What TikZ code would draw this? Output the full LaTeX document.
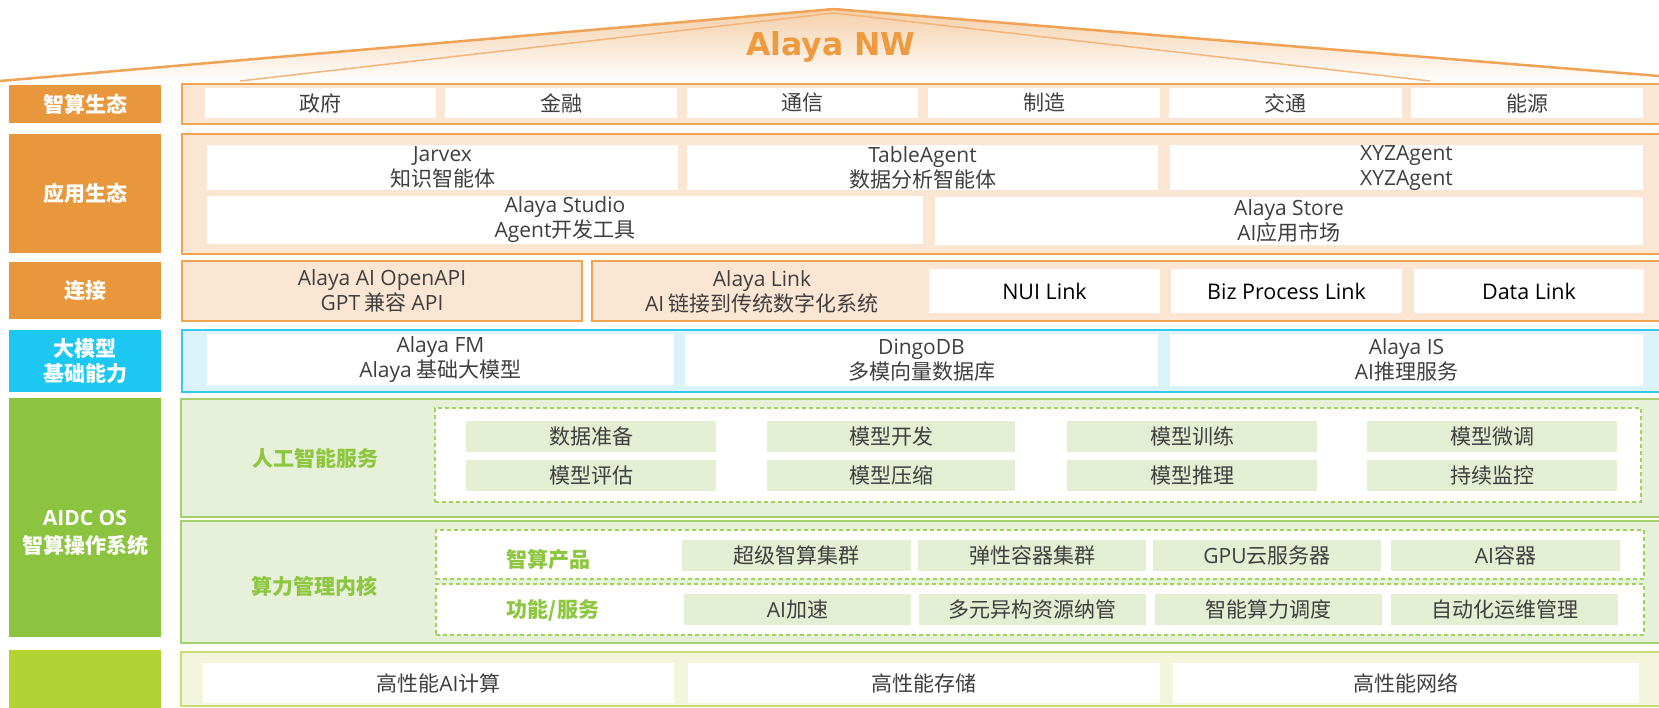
\documentclass[tikz,border=0pt]{standalone}
\usepackage{fontspec}
\setmainfont{Noto Sans CJK SC}
\newfontfamily\en{Open Sans}
\newfontfamily\ttl{DejaVu Sans}
\usetikzlibrary{fadings}
\definecolor{labO}{HTML}{E9973D}
\definecolor{bordO}{HTML}{F0A450}
\definecolor{fillO}{HTML}{FBE6D3}
\definecolor{roofO}{HTML}{F0A255}
\definecolor{roofI}{HTML}{F3B57C}
\definecolor{roofT}{HTML}{F4CFA8}
\definecolor{titleO}{HTML}{EE9A3F}
\definecolor{labC}{HTML}{1CC7F1}
\definecolor{bordC}{HTML}{36C6EE}
\definecolor{fillC}{HTML}{DAF2FA}
\definecolor{labG}{HTML}{8CC43F}
\definecolor{bordG}{HTML}{A4D070}
\definecolor{fillG}{HTML}{E7F1DA}
\definecolor{itemG}{HTML}{E3EED3}
\definecolor{textG}{HTML}{8DC63F}
\definecolor{dashG}{HTML}{9FD35A}
\definecolor{labY}{HTML}{B3D334}
\definecolor{bordY}{HTML}{C9DE72}
\definecolor{fillY}{HTML}{F3F6DC}
\definecolor{txt}{HTML}{3F3F3F}
\newcommand\bx[7][]{\node[minimum width={(#5-#3)*1pt}, minimum height={(#6-#4)*1pt},#1] (#2) at ({(#3+#5)/2},{(#4+#6)/2}) {#7};}
\begin{document}
\begin{tikzpicture}[x=1pt,y=-1pt,
  every node/.style={inner sep=0pt, outer sep=0pt, align=center},
  f21/.style={font=\fontsize{21}{25}\selectfont},
  lab/.style={fill=labO, text=white, font=\fontsize{21}{25}\selectfont\bfseries},
  contO/.style={draw=bordO, fill=fillO, line width=1.3pt},
  contC/.style={draw=bordC, fill=fillC, line width=1.3pt},
  contG/.style={draw=bordG, fill=fillG, line width=1.3pt},
  contY/.style={draw=bordY, fill=fillY, line width=1.3pt},
  wbox/.style={fill=white, text=txt, f21},
  kbox/.style={fill=white, text=black, font=\fontsize{21.5}{25}\selectfont},
  gitem/.style={fill=itemG, text=txt, f21},
  gtitle/.style={text=textG, font=\fontsize{21}{25}\selectfont\bfseries},
  dbox/.style={draw=dashG, dash pattern=on 4pt off 3pt, line width=1.3pt, fill=white}]
\useasboundingbox (0,0) rectangle (1659,707);
% roof
\coordinate (rl) at (0,81);
\coordinate (apex) at (834,9);
\coordinate (rr) at (1659,76);
\coordinate (il) at (240,81);
\coordinate (iapex) at (834,13);
\coordinate (ir) at (1430,81);
\fill[roofT, path fading=south] (rl) -- (apex) -- (rr) -- (1659,82) -- (0,82) -- cycle;
\draw[roofO, line width=2.5pt, line join=round] (rl) -- (apex) -- (rr);
\draw[roofI, line width=1.5pt, line join=round] (il) -- (iapex) -- (ir);
\node[anchor=base, text=titleO, font=\fontsize{31.5}{36}\ttl\bfseries] (title) at (831,55) {Alaya NW};
% row 1
\bx[lab]{l1}{9}{85}{161}{123}{智算生态}
\bx[contO]{c1}{182}{84}{1664}{124}{}
\bx[wbox]{r1a}{205}{88}{436}{118}{政府}
\bx[wbox]{r1b}{445}{88}{677}{118}{金融}
\bx[wbox]{r1c}{687}{88}{918}{118}{通信}
\bx[wbox]{r1d}{928}{88}{1160}{118}{制造}
\bx[wbox]{r1e}{1169}{88}{1402}{118}{交通}
\bx[wbox]{r1f}{1411}{88}{1643}{118}{能源}
% row 2
\bx[lab]{l2}{9}{134}{161}{253}{应用生态}
\bx[contO]{c2}{182}{134}{1664}{254}{}
\bx[wbox]{jarvex}{207}{145}{678}{190}{{\en Jarvex}\\知识智能体}
\bx[wbox]{table}{687}{145}{1158}{190}{{\en TableAgent}\\数据分析智能体}
\bx[wbox]{xyz}{1170}{145}{1643}{190}{{\en XYZAgent}\\{\en XYZAgent}}
\bx[wbox]{studio}{207}{196}{923}{244}{{\en Alaya Studio}\\{\en Agent}开发工具}
\bx[wbox]{store}{935}{197}{1643}{245}{{\en Alaya Store}\\{\en AI}应用市场}
% row 3
\bx[lab]{l3}{9}{262}{161}{319}{连接}
\bx[contO,text=txt,f21]{openapi}{182}{261}{582}{321}{{\en Alaya AI OpenAPI}\\{\en GPT} 兼容 {\en API}}
\bx[contO]{link}{592}{261}{1664}{321}{}
\node[text=txt, f21] (linktxt) at (762,292) {{\en Alaya Link}\\{\en AI} 链接到传统数字化系统};
\bx[kbox]{nui}{929}{269}{1160}{313}{\en NUI Link}
\bx[kbox]{biz}{1171}{269}{1402}{313}{\en Biz Process Link}
\bx[kbox]{data}{1414}{269}{1644}{313}{\en Data Link}
% row 4
\bx[lab,fill=labC]{l4}{9}{330}{161}{392}{大模型\\基础能力}
\bx[contC]{c4}{182}{330}{1664}{392}{}
\bx[wbox]{fm}{207}{334}{674}{385}{{\en Alaya FM}\\{\en Alaya} 基础大模型}
\bx[wbox]{dingo}{685}{334}{1158}{386}{{\en DingoDB}\\多模向量数据库}
\bx[wbox]{is}{1170}{334}{1643}{386}{{\en Alaya IS}\\{\en AI}推理服务}
% row 5
\bx[lab,fill=labG]{l5}{9}{398}{161}{637}{}
\node[text=white, font=\fontsize{21}{28}\selectfont\bfseries] (l5t) at (85,533) {{\en AIDC OS}\\智算操作系统};
\bx[contG]{c5a}{181}{399}{1664}{517}{}
\node[gtitle] (aisvc) at (315,458) {人工智能服务};
\bx[dbox]{d5a}{435}{408}{1641}{502}{}
\bx[gitem]{s1}{466}{421}{716}{452}{数据准备}
\bx[gitem]{s2}{767}{421}{1015}{452}{模型开发}
\bx[gitem]{s3}{1067}{421}{1317}{452}{模型训练}
\bx[gitem]{s4}{1367}{421}{1617}{452}{模型微调}
\bx[gitem]{s5}{466}{460}{716}{491}{模型评估}
\bx[gitem]{s6}{767}{460}{1015}{491}{模型压缩}
\bx[gitem]{s7}{1067}{460}{1317}{491}{模型推理}
\bx[gitem]{s8}{1367}{460}{1617}{491}{持续监控}
\bx[contG]{c5b}{181}{521}{1664}{643}{}
\node[gtitle] (kernel) at (314,586) {算力管理内核};
\bx[dbox]{d5b}{436}{530}{1644}{579}{}
\bx[dbox]{d5c}{436}{584}{1644}{635}{}
\node[gtitle] (prod) at (548,560) {智算产品};
\node[gtitle] (func) at (553,610) {功能/服务};
\bx[gitem]{p1}{682}{540}{911}{571}{超级智算集群}
\bx[gitem]{p2}{918}{540}{1146}{571}{弹性容器集群}
\bx[gitem]{p3}{1153}{540}{1381}{571}{{\en GPU}云服务器}
\bx[gitem]{p4}{1391}{540}{1620}{571}{{\en AI}容器}
\bx[gitem]{f1}{684}{594}{911}{625}{{\en AI}加速}
\bx[gitem]{f2}{919}{594}{1146}{625}{多元异构资源纳管}
\bx[gitem]{f3}{1155}{594}{1382}{625}{智能算力调度}
\bx[gitem]{f4}{1391}{594}{1618}{625}{自动化运维管理}
% row 6
\bx[lab,fill=labY]{l6}{9}{650}{161}{712}{}
\bx[contY]{c6}{181}{652}{1664}{706}{}
\bx[wbox]{h1}{203}{663}{674}{703}{高性能{\en AI}计算}
\bx[wbox]{h2}{688}{663}{1160}{703}{高性能存储}
\bx[wbox]{h3}{1173}{663}{1639}{703}{高性能网络}
\end{tikzpicture}
\end{document}
